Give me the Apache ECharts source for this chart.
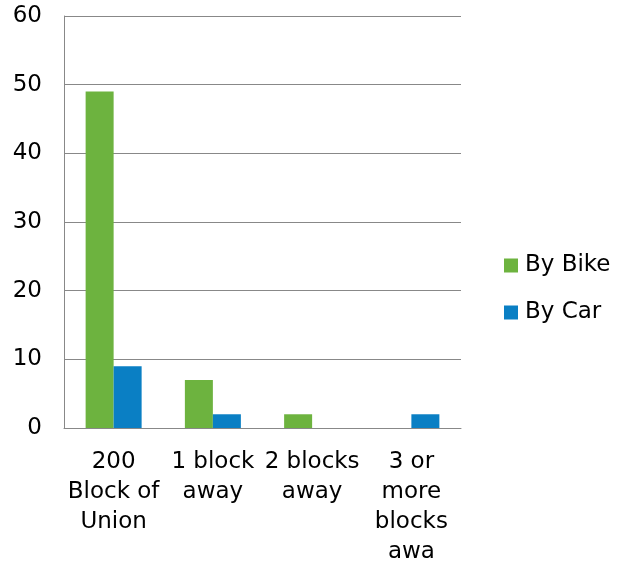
<!DOCTYPE html>
<html>
<head>
<meta charset="utf-8">
<script src="https://cdn.jsdelivr.net/npm/echarts@6/dist/echarts.min.js"></script>
<style>
html,body{margin:0;padding:0;background:#fff;}
#chart{width:623px;height:567px;}
</style>
</head>
<body>
<div id="chart"></div>
<script>
const categories = ["200\nBlock of\nUnion", "1 block\naway", "2 blocks\naway", "3 or\nmore\nblocks\nawa"];
const seriesNames = ["By Bike", "By Car"];
const bikeValues = [49, 7, 2, 0];
const carValues = [9, 2, 0, 2];
const yTicks = [0, 10, 20, 30, 40, 50, 60];

const FONT = "DejaVu Sans";
const chart = echarts.init(document.getElementById('chart'), null, {renderer: 'canvas'});
chart.setOption({
  animation: false,
  backgroundColor: '#ffffff',
  textStyle: {fontFamily: FONT},
  grid: {left: 64, right: 162, top: 16, bottom: 139},
  legend: {
    orient: 'vertical',
    left: 499,
    top: 249,
    itemWidth: 14,
    itemHeight: 14,
    itemGap: 24,
    icon: 'rect',
    data: seriesNames,
    textStyle: {fontFamily: FONT, fontSize: 23, color: '#000', padding: [0,0,0,2]}
  },
  xAxis: {
    type: 'category',
    data: categories,
    axisLine: {show: true, lineStyle: {color: '#888888', width: 1}},
    axisTick: {show: false},
    axisLabel: {interval: 0, fontFamily: FONT, fontSize: 23, color: '#000', lineHeight: 30, margin: 19}
  },
  yAxis: {
    type: 'value',
    min: yTicks[0],
    max: yTicks[yTicks.length - 1],
    interval: 10,
    axisLine: {show: true, lineStyle: {color: '#888888', width: 1}},
    axisTick: {show: false},
    splitLine: {show: true, lineStyle: {color: '#888888', width: 1}},
    axisLabel: {fontFamily: FONT, fontSize: 23, color: '#000', margin: 22, padding: [7, 0, 0, 0]}
  },
  series: [
    {name: seriesNames[0], type: 'bar', data: bikeValues, barWidth: 28, barGap: '0%', itemStyle: {color: '#6DB33F'}},
    {name: seriesNames[1], type: 'bar', data: carValues, barWidth: 28, barGap: '0%', itemStyle: {color: '#0A7FC4'}}
  ]
});
</script>
</body>
</html>
